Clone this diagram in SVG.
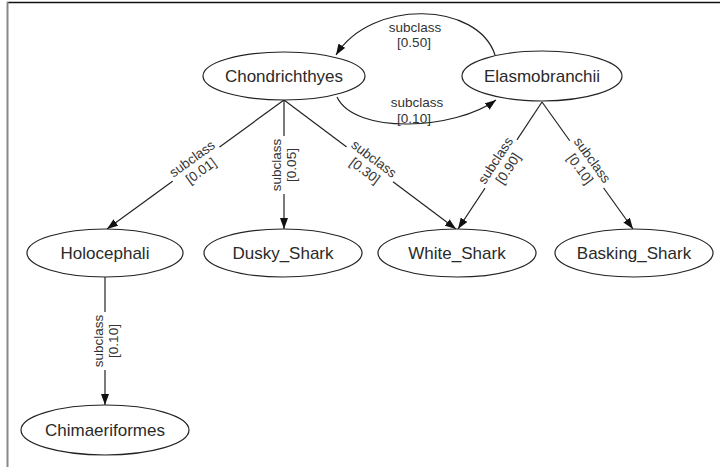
<svg xmlns="http://www.w3.org/2000/svg" width="720" height="467" viewBox="0 0 720 467">
<style>
.node ellipse{fill:#fff;stroke:#222;stroke-width:1.2}
.node text{font-family:"Liberation Sans",Arial,sans-serif;font-size:17px;fill:#2a2a2a;text-anchor:middle}
.edge{fill:none;stroke:#222;stroke-width:1.2}
.lbl text{font-family:"Liberation Sans",Arial,sans-serif;font-size:13.5px;fill:#333;text-anchor:middle}
.lbl rect{fill:#fff;stroke:none}
</style>
<defs>
<marker id="arr" markerUnits="userSpaceOnUse" markerWidth="11" markerHeight="8" refX="11" refY="4" orient="auto">
<path d="M0,0 L11,4 L0,8 z" fill="#111"/>
</marker>
</defs>
<rect x="0" y="0" width="720" height="467" fill="#fff"/>
<line x1="7" y1="2.5" x2="720" y2="2.5" stroke="#111" stroke-width="1.5"/>
<line x1="7.5" y1="2" x2="7.5" y2="467" stroke="#888" stroke-width="2"/>
<g id="connectors">
<path class="edge" d="M495,55 C478,2 372,-2 336,55" marker-end="url(#arr)"/>
<g class="lbl"><text x="415" y="32">subclass</text><text x="414" y="47">[0.50]</text></g>
<path class="edge" d="M337,97 C355,135 455,130 496,100" marker-end="url(#arr)"/>
<g class="lbl"><text x="417" y="107">subclass</text><text x="414" y="123">[0.10]</text></g>
<path class="edge" d="M284,100 L107,229" marker-end="url(#arr)"/>
<g class="lbl" transform="translate(196,164) rotate(-36)"><rect x="-29" y="-14" width="58" height="31"/><text y="-2">subclass</text><text y="13">[0.01]</text></g>
<path class="edge" d="M284,100 L284,229" marker-end="url(#arr)"/>
<g class="lbl" transform="translate(283,165) rotate(-90)"><rect x="-29" y="-14" width="58" height="31"/><text y="-2">subclass</text><text y="13">[0.05]</text></g>
<path class="edge" d="M284,100 L456,229" marker-end="url(#arr)"/>
<g class="lbl" transform="translate(370,164) rotate(37)"><rect x="-29" y="-14" width="58" height="31"/><text y="-2">subclass</text><text y="13">[0.30]</text></g>
<path class="edge" d="M542,102 L458,229" marker-end="url(#arr)"/>
<g class="lbl" transform="translate(501,164) rotate(-57)"><rect x="-29" y="-14" width="58" height="31"/><text y="-2">subclass</text><text y="13">[0.90]</text></g>
<path class="edge" d="M542,102 L633,229" marker-end="url(#arr)"/>
<g class="lbl" transform="translate(587,164) rotate(54)"><rect x="-29" y="-14" width="58" height="31"/><text y="-2">subclass</text><text y="13">[0.10]</text></g>
<path class="edge" d="M105,277 L105,405" marker-end="url(#arr)"/>
<g class="lbl" transform="translate(105,341) rotate(-90)"><rect x="-29" y="-14" width="58" height="31"/><text y="-2">subclass</text><text y="13">[0.10]</text></g>
</g>
<g id="Chondrichthyes" class="node"><ellipse cx="284" cy="76" rx="81" ry="24"/><text x="284" y="82">Chondrichthyes</text></g>
<g id="Elasmobranchii" class="node"><ellipse cx="542" cy="76" rx="80" ry="25"/><text x="542" y="82">Elasmobranchii</text></g>
<g id="Holocephali" class="node"><ellipse cx="105" cy="253" rx="78" ry="24"/><text x="105" y="259">Holocephali</text></g>
<g id="Dusky_Shark" class="node"><ellipse cx="283" cy="253" rx="79" ry="24"/><text x="283" y="259">Dusky_Shark</text></g>
<g id="White_Shark" class="node"><ellipse cx="457" cy="253" rx="79" ry="24"/><text x="457" y="259">White_Shark</text></g>
<g id="Basking_Shark" class="node"><ellipse cx="634" cy="253" rx="79" ry="24"/><text x="634" y="259">Basking_Shark</text></g>
<g id="Chimaeriformes" class="node"><ellipse cx="105" cy="430" rx="84" ry="25"/><text x="105" y="436">Chimaeriformes</text></g>
</svg>
